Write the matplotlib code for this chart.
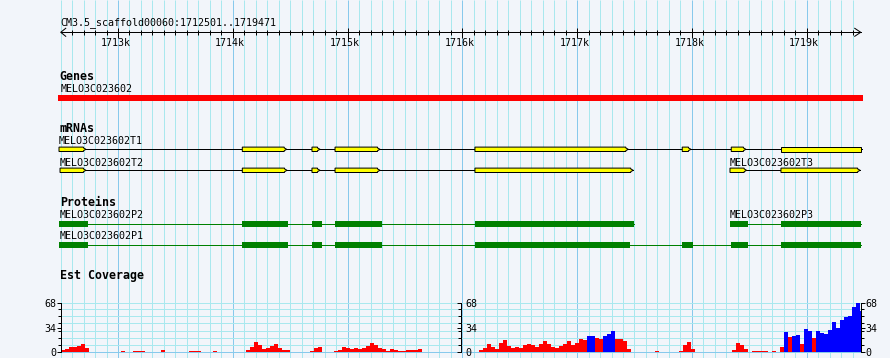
import matplotlib
matplotlib.use("Agg")
import matplotlib.pyplot as plt
from matplotlib.patches import Polygon
import numpy as np

# ---- data -------------------------------------------------------------
REGION = "CM3.5_scaffold00060"
START, END = 1712501, 1719471
TICK_KB = [1713, 1714, 1715, 1716, 1717, 1718, 1719]

GENE_NAME = "MELO3C023602"
GENE_SPAN = (1712480, 1719490)

T1_EXONS = [(1712486, 1712721), (1714083, 1714470), (1714690, 1714760),
            (1714891, 1715283), (1716110, 1717446), (1717916, 1717992),
            (1718343, 1718471), (1718776, 1719480)]
T2_EXONS = [(1712495, 1712721), (1714083, 1714473), (1714690, 1714760),
            (1714891, 1715283), (1716110, 1717489)]
T3_EXONS = [(1718332, 1718477), (1718776, 1719466)]

P2_CDS = [(1712489, 1712736), (1714080, 1714484), (1714690, 1714777),
          (1714891, 1715300), (1716110, 1717496)]
P3_CDS = [(1718332, 1718489), (1718776, 1719471)]
P1_CDS = [(1712489, 1712736), (1714080, 1714484), (1714690, 1714777),
          (1714891, 1715300), (1716110, 1717461), (1717916, 1718007),
          (1718341, 1718489), (1718776, 1719471)]

# EST coverage, 35 bp bins from START (two libraries)
COV_BIN = 35
RED_COV = [
    3, 5, 7, 7, 9, 11, 6, 0, 0, 0, 0, 0, 0, 0, 0, 2, 0, 0, 2, 2,
    2, 0, 0, 0, 0, 3.5, 0, 0, 0, 0, 0, 0, 2, 2, 2, 0, 0, 0, 2, 0,
    0, 0, 0, 0, 0, 1, 3.5, 7, 14, 10, 4.5, 5.5, 9, 12, 6, 2.5, 3, 0, 0, 0,
    0, 0, 1.5, 6, 8, 0, 0, 1, 1.5, 3, 7, 6, 5, 6, 5, 6, 9, 13, 10, 6,
    4, 1.5, 4, 3, 1.5, 1.5, 3.5, 3.5, 3.5, 4, 1, 0, 0, 0, 0, 0, 0, 0, 0, 0,
    0, 0, 0, 1, 2.5, 6, 11, 8, 5, 13, 17, 9, 6, 8, 6.5, 9.5, 12, 10, 7, 12,
    16, 12, 8, 6, 8.5, 11, 15, 10, 13, 18, 17, 10, 0, 20, 19, 0, 0, 0, 18, 18.5,
    15, 4, 0, 0, 0, 0, 0, 0, 1.5, 0, 0, 0, 0, 0, 2, 10, 14, 5, 0, 0,
    0, 0, 0, 0, 0, 0, 0.5, 3.5, 13, 10, 5, 0, 1.5, 1.5, 1.5, 1.5, 0, 1.5, 0, 8,
    0, 21, 21, 0, 12, 0, 0, 20, 0, 0, 0, 0, 0, 0, 0, 0, 0, 0, 0, 0,
]
BLUE_COV = [0] * 131 + [
    22, 23, 0, 0, 22.5, 25, 30, 0, 0, 0, 0, 0, 0, 0, 0, 0, 0, 0, 0, 0,
    0, 0, 0, 0, 0, 0, 0, 0, 0, 0, 0, 0, 0, 0, 0, 0, 0, 0, 0, 0,
    0, 0, 0, 0, 0, 0, 0, 0, 0, 28, 0, 23, 24, 0, 33, 30, 0, 29, 27, 25,
    31, 42, 34, 45, 49, 50, 63, 68, 58,
]
COV_MAX = 68

# ---- layout -----------------------------------------------------------
W, H = 890, 358
X0_PX = 60.72
PPB = 800.0 / (END - START)          # pixels per bp
BG = "#f2f5fa"
GRID_MINOR = "#a9e8ee"
GRID_MAJOR = "#88c9ec"
PX = 0.72                             # one pixel in points

plt.rcParams["font.family"] = "DejaVu Sans Mono"
SMALL = 7.2
BOLD = 8.4

fig = plt.figure(figsize=(W / 100, H / 100), dpi=100, facecolor=BG)
ax = fig.add_axes([0, 0, 1, 1])
ax.set_xlim(START - X0_PX / PPB, START + (W - X0_PX) / PPB)
ax.set_ylim(H, 0)
ax.set_facecolor(BG)
ax.axis("off")

bp = lambda px: px / PPB   # pixel length -> bp length

# vertical grid every 100 bp
grid_pos = np.arange(1712500, END, 100)
ax.vlines(grid_pos, 0, H, colors=[GRID_MAJOR if p % 1000 == 0 else GRID_MINOR for p in grid_pos],
          lw=PX, zorder=0)

# ruler
ax.text(START, 25, f"{REGION}:{START}..{END}", fontsize=SMALL, va="baseline", ha="left")
ax.plot([START, END], [32.3, 32.3], color="black", lw=PX)
ax.plot([START + bp(5), START, START + bp(5)], [28.3, 32.3, 36.3], color="black", lw=PX)
ax.plot([END - bp(6), END, END - bp(6)], [28.3, 32.3, 36.3], color="black", lw=PX)
minor = [p for p in range(1712600, END, 100) if p % 1000]
ax.vlines(minor, 30, 35, color="black", lw=PX)
ax.vlines([k * 1000 for k in TICK_KB], 27.5, 37.5, color="black", lw=PX)
for k in TICK_KB:
    ax.text(k * 1000 - bp(2.5), 46, f"{k}k", fontsize=SMALL, ha="center", va="baseline")


def title(y, s):
    ax.text(START - bp(1), y, s, fontsize=BOLD, fontweight="bold", va="baseline", ha="left")


def label(x, y, s):
    ax.text(x, y, s, fontsize=SMALL, va="baseline", ha="left")


# genes
title(80, "Genes")
label(START, 92.3, GENE_NAME)
ax.fill_between(GENE_SPAN, 95, 100.7, color="#ff0000", lw=0)


def transcript(exons, yc, name, ly):
    label(exons[0][0], ly, name)
    ax.plot([exons[0][0], exons[-1][1]], [yc, yc], color="black", lw=PX, zorder=2)
    tip = bp(2.5)
    for s, e in exons:
        top, bot = yc - 2.2, yc + 2.2
        if e < END:
            pts = [(s, top), (e - tip, top), (e - tip, top + 0.8), (e, yc),
                   (e - tip, bot - 0.8), (e - tip, bot), (s, bot)]
        else:
            pts = [(s, top), (END, top), (END, bot), (s, bot)]
        ax.add_patch(Polygon(pts, closed=True, facecolor="#ffff00",
                             edgecolor="black", lw=PX, zorder=3))


title(131.7, "mRNAs")
transcript(T1_EXONS, 149.3, "MELO3C023602T1", 144.3)
transcript(T2_EXONS, 170.3, "MELO3C023602T2", 165.7)
transcript(T3_EXONS, 170.3, "MELO3C023602T3", 165.7)


def protein(cds, yc, name, ly):
    label(cds[0][0], ly, name)
    ax.plot([cds[0][0], cds[-1][1]], [yc, yc], color="#008000", lw=PX, zorder=2)
    for s, e in cds:
        ax.fill_between([s, e], yc - 2.8, yc + 2.8, color="#008000", lw=0, zorder=3)


title(206, "Proteins")
protein(P2_CDS, 223.8, "MELO3C023602P2", 217.7)
protein(P3_CDS, 223.8, "MELO3C023602P3", 217.7)
protein(P1_CDS, 244.8, "MELO3C023602P1", 239.3)

# EST coverage
title(279.5, "Est Coverage")
y0, y1 = 352.3, 303.3
cov = fig.add_axes([X0_PX / W, (H - y0) / H, 800 / W, (y0 - y1) / H])
cov.patch.set_visible(False)
cov.set_xlim(START, END)
cov.set_ylim(0, COV_MAX)
edges = START + np.arange(len(RED_COV) + 1) * COV_BIN
cov.hlines([10, 20, 30, 40, 50, 60, COV_MAX], START, END, color=GRID_MINOR, lw=PX,
           zorder=0, clip_on=False)
cov.hlines([0], START, END, color=GRID_MAJOR, lw=PX, zorder=0, clip_on=False)
cov.stairs(RED_COV, edges, fill=True, color="#ff0000", lw=0, zorder=2)
cov.stairs(BLUE_COV, edges, fill=True, color="#0000ff", lw=0, zorder=3)

for s in ("top", "right", "bottom"):
    cov.spines[s].set_visible(False)
cov.spines["left"].set_linewidth(PX)
cov.set_xticks([])
cov.set_yticks([0, 34, COV_MAX])
cov.set_yticks([10, 20, 30, 40, 50, 60], minor=True)
cov.tick_params(axis="y", which="major", length=4 * PX, width=PX, pad=0.5, labelsize=SMALL)
cov.tick_params(axis="y", which="minor", length=3 * PX, width=PX)

for loc, direction in ((0.5, "in"), (1.0, "out")):
    sec = cov.secondary_yaxis(loc)
    sec.spines["right"].set_linewidth(PX)
    sec.set_yticks([0, 34, COV_MAX])
    sec.set_yticks([10, 20, 30, 40, 50, 60], minor=True)
    sec.tick_params(axis="y", which="major", direction=direction, length=4 * PX, width=PX,
                    pad=0.5 if direction == "out" else 3, labelsize=SMALL)
    sec.tick_params(axis="y", which="minor", direction=direction, length=3 * PX, width=PX)

fig.savefig("out.png", dpi=100, facecolor=BG)
